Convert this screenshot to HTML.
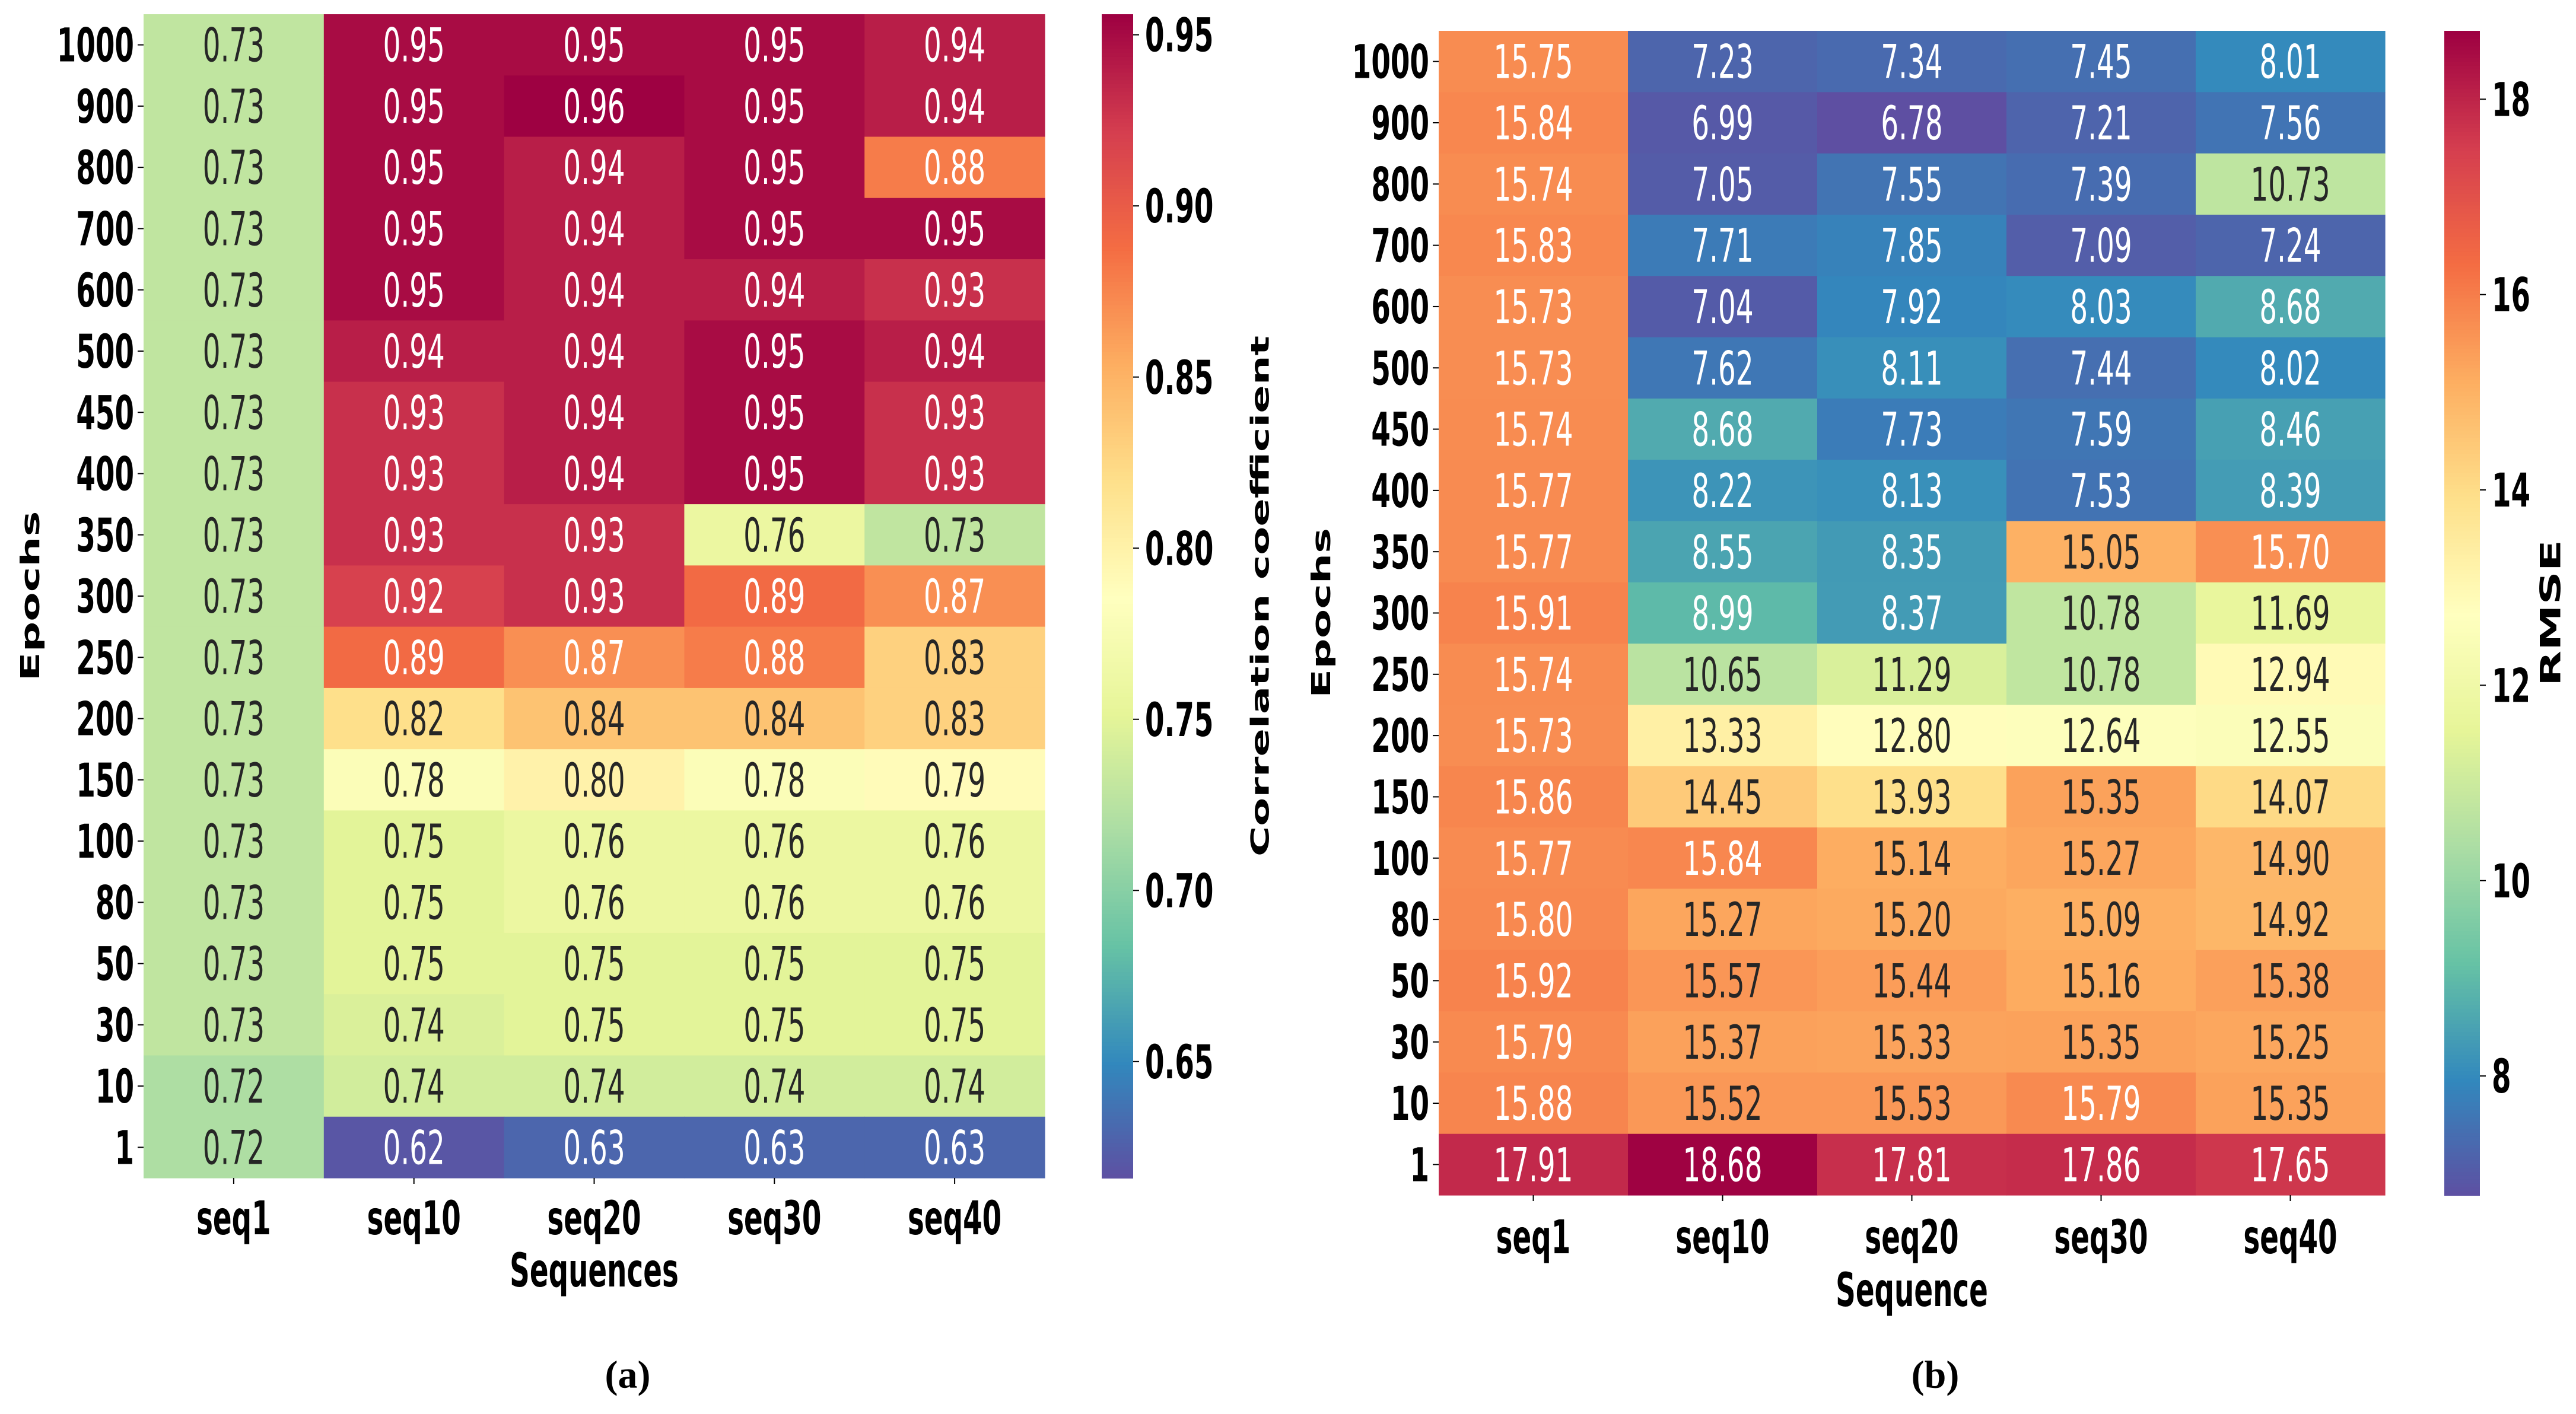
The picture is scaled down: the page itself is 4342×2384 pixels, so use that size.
<!DOCTYPE html>
<html><head><meta charset="utf-8"><style>
html,body{margin:0;padding:0;background:#fff;}
svg{display:block;}
</style></head><body>
<svg id="fig" xmlns="http://www.w3.org/2000/svg" width="4342" height="2384" viewBox="0 0 4342 2384"></svg>
<script>
const epochs = ["1000","900","800","700","600","500","450","400","350","300","250","200","150","100","80","50","30","10","1"];
const sequences = ["seq1","seq10","seq20","seq30","seq40"];
const corrValues = [
[0.73,0.95,0.95,0.95,0.94],
[0.73,0.95,0.96,0.95,0.94],
[0.73,0.95,0.94,0.95,0.88],
[0.73,0.95,0.94,0.95,0.95],
[0.73,0.95,0.94,0.94,0.93],
[0.73,0.94,0.94,0.95,0.94],
[0.73,0.93,0.94,0.95,0.93],
[0.73,0.93,0.94,0.95,0.93],
[0.73,0.93,0.93,0.76,0.73],
[0.73,0.92,0.93,0.89,0.87],
[0.73,0.89,0.87,0.88,0.83],
[0.73,0.82,0.84,0.84,0.83],
[0.73,0.78,0.80,0.78,0.79],
[0.73,0.75,0.76,0.76,0.76],
[0.73,0.75,0.76,0.76,0.76],
[0.73,0.75,0.75,0.75,0.75],
[0.73,0.745,0.75,0.75,0.75],
[0.72,0.74,0.74,0.74,0.74],
[0.72,0.62,0.63,0.63,0.63]];
const rmseValues = [
[15.75,7.23,7.34,7.45,8.01],
[15.84,6.99,6.78,7.21,7.56],
[15.74,7.05,7.55,7.39,10.73],
[15.83,7.71,7.85,7.09,7.24],
[15.73,7.04,7.92,8.03,8.68],
[15.73,7.62,8.11,7.44,8.02],
[15.74,8.68,7.73,7.59,8.46],
[15.77,8.22,8.13,7.53,8.39],
[15.77,8.55,8.35,15.05,15.70],
[15.91,8.99,8.37,10.78,11.69],
[15.74,10.65,11.29,10.78,12.94],
[15.73,13.33,12.80,12.64,12.55],
[15.86,14.45,13.93,15.35,14.07],
[15.77,15.84,15.14,15.27,14.90],
[15.80,15.27,15.20,15.09,14.92],
[15.92,15.57,15.44,15.16,15.38],
[15.79,15.37,15.33,15.35,15.25],
[15.88,15.52,15.53,15.79,15.35],
[17.91,18.68,17.81,17.86,17.65]];
const corrTicks = [0.65,0.70,0.75,0.80,0.85,0.90,0.95];
const corrTickLabels = ["0.65","0.70","0.75","0.80","0.85","0.90","0.95"];
const rmseTicks = [8,10,12,14,16,18];
const rmseTickLabels = ["8","10","12","14","16","18"];

const NS="http://www.w3.org/2000/svg";
const svg=document.getElementById('fig');
const SX=0.6;
const stops=["#5e4fa2","#3288bd","#66c2a5","#abdda4","#e6f598","#ffffbf","#fee08b","#fdae61","#f46d43","#d53e4f","#9e0142"];
function hex(h){return [parseInt(h.slice(1,3),16),parseInt(h.slice(3,5),16),parseInt(h.slice(5,7),16)];}
const S=stops.map(hex);
function cmap(t){t=Math.max(0,Math.min(1,t));const p=t*10;const i=Math.min(9,Math.floor(p));const f=p-i;
 return [0,1,2].map(k=>Math.round(S[i][k]+(S[i+1][k]-S[i][k])*f));}
function rgb(c){return "rgb("+c.join(",")+")";}
function lum(c){const l=c.map(v=>{v/=255;return v<=0.03928?v/12.92:Math.pow((v+0.055)/1.055,2.4);});return 0.2126*l[0]+0.7152*l[1]+0.0722*l[2];}
function el(tag,attrs,parent){const e=document.createElementNS(NS,tag);for(const k in attrs)e.setAttribute(k,attrs[k]);(parent||svg).appendChild(e);return e;}
function txt(x,y,s,size,weight,anchor,fill,parent,rot,sx){
 const t=el('text',{transform:"translate("+x+","+y+") scale("+(sx||SX)+",1)"+(rot?" rotate("+rot+")":""),
  'font-family':'"DejaVu Sans", "Liberation Sans", sans-serif','font-size':size,'font-weight':weight,'text-anchor':anchor,'dominant-baseline':'central',fill:fill},parent);
 t.textContent=s;return t;}

function panel(cfg){
 const g=el('g',{});
 
 
 const nR=epochs.length,nC=sequences.length;
 const cw=(cfg.x1-cfg.x0)/nC,ch=(cfg.y1-cfg.y0)/nR;
 const norm=v=>(v-cfg.vmin)/(cfg.vmax-cfg.vmin);
 for(let r=0;r<nR;r++)for(let c=0;c<nC;c++){
  const v=cfg.vals[r][c];const col=cmap(norm(v));
  const rect=el('rect',{x:cfg.x0+c*cw,y:cfg.y0+r*ch,width:cw+0.6,height:ch+0.6,fill:rgb(col)},g);
  
  
  const t=txt(cfg.x0+(c+0.5)*cw,cfg.y0+(r+0.5)*ch+2,v.toFixed(2),78,'normal','middle',lum(col)>0.408?'#262626':'#ffffff',g);
  
  
 }
 for(let r=0;r<nR;r++){
  const y=cfg.y0+(r+0.5)*ch;
  el('line',{x1:cfg.x0-10,x2:cfg.x0,y1:y,y2:y,stroke:'#000','stroke-width':2},g);
  const t=txt(cfg.x0-16,y+2,epochs[r],78,'bold','end','#000',g);
  
  
 }
 for(let c=0;c<nC;c++){
  const x=cfg.x0+(c+0.5)*cw;
  el('line',{x1:x,x2:x,y1:cfg.y1,y2:cfg.y1+10,stroke:'#000','stroke-width':2},g);
  const t=txt(x,cfg.xtickY,sequences[c],78,'bold','middle','#000',g);
  
  
 }
 let t=txt((cfg.x0+cfg.x1)/2,cfg.xlabY,cfg.xlab,78,'bold','middle','#000',g);
 
 
 t=txt(cfg.ylabX,(cfg.y0+cfg.y1)/2,'Epochs',72,'bold','middle','#000',g,-90);
 
 
 const N=300,H=cfg.y1-cfg.y0;
 for(let i=0;i<N;i++){
  el('rect',{x:cfg.cb0,y:cfg.y0+H*i/N,width:cfg.cb1-cfg.cb0,height:H/N+1,fill:rgb(cmap(1-i/N))},g);
 }
 const cy=v=>cfg.y1-norm(v)*H;
 cfg.ticks.forEach((v,i)=>{
  const y=cy(v);
  el('line',{x1:cfg.cb1,x2:cfg.cb1+10,y1:y,y2:y,stroke:'#000','stroke-width':2},g);
  const tt=txt(cfg.cb1+20,y+2,cfg.tickLabels[i],78,'bold','start','#000',g);
  
  
 });
 t=txt(cfg.cbLabX,(cfg.y0+cfg.y1)/2,cfg.cbLab,cfg.cbSize,'bold','middle','#000',g,-90);
 
 
 t=el('text',{x:cfg.capX,y:2318,'font-family':'"Liberation Serif", serif','font-size':66,'font-weight':'bold','text-anchor':'middle','dominant-baseline':'central',fill:'#000'},g);
 t.textContent=cfg.cap;
 
 
}
panel({name:'correlation-heatmap',vals:corrValues,x0:242,x1:1761,y0:24,y1:1986,vmin:0.616,vmax:0.956,
 xtickY:2055,xlabY:2143,xlab:'Sequences',ylabX:52,cb0:1857,cb1:1910,ticks:corrTicks,tickLabels:corrTickLabels,
 cbLabX:2124,cbLab:'Correlation coefficient',cbSize:70,capX:1058,cap:'(a)'});
panel({name:'rmse-heatmap',vals:rmseValues,x0:2425,x1:4020,y0:52,y1:2015,vmin:6.78,vmax:18.70,
 xtickY:2087,xlabY:2176,xlab:'Sequence',ylabX:2228,cb0:4120,cb1:4180,ticks:rmseTicks,tickLabels:rmseTickLabels,
 cbLabX:4300,cbLab:'RMSE',cbSize:78,capX:3262,cap:'(b)'});
</script>
</body></html>
